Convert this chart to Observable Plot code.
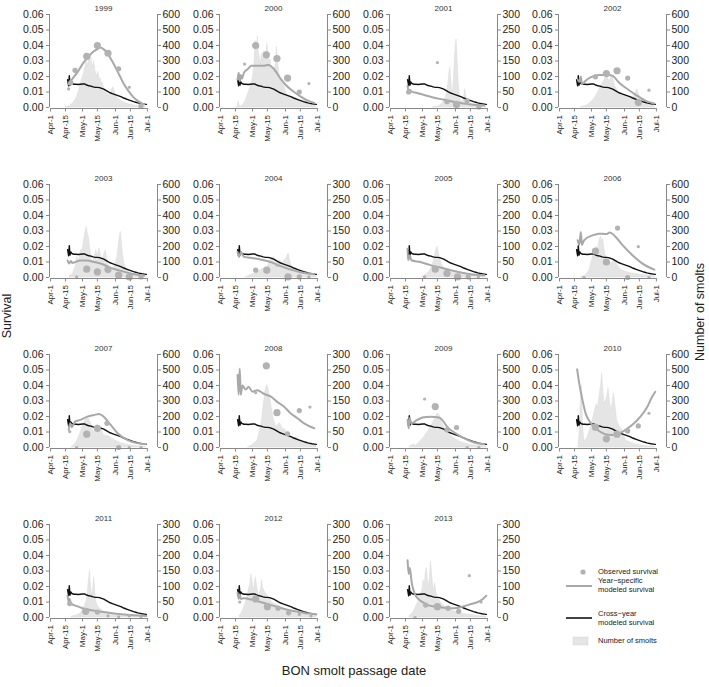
<!DOCTYPE html>
<html><head><meta charset="utf-8">
<script src="https://cdn.jsdelivr.net/npm/d3@7"></script>
<script src="https://cdn.jsdelivr.net/npm/@observablehq/plot@0.6"></script>
<style>
body{margin:0;background:#fff;}
#root{position:relative;width:709px;height:687px;background:#fff;overflow:hidden;font-family:"Liberation Sans",Arial,sans-serif;color:#222}
.panel{position:absolute}
.panel svg{overflow:visible}
.panel g[aria-label$="tick label"]{stroke:none;fill:#222}
#overlay{position:absolute;left:0;top:0}
</style></head><body><div id="root"></div>
<script>
// ---------- data ----------
const years = [1999,2000,2001,2002,2003,2004,2005,2006,2007,2008,2009,2010,2011,2012,2013];
const rightMax = [600,600,300,600,600,300,300,600,600,300,600,600,300,300,300];
const dateTickDays = [0,14,30,44,61,75,91];          // days after Apr-1
const dateTickLabels = ["Apr-1","Apr-15","May-1","May-15","Jun-1","Jun-15","Jul-1"];
const survivalTicks = [0,0.01,0.02,0.03,0.04,0.05,0.06];

// cross-year modeled survival [day, survival]
const crossYear = [[16,0.018],[17,0.014],[17.6,0.0205],[18.3,0.0145],[19,0.0165],[20,0.0155],[22,0.015],[24,0.015],[26,0.0148],[28,0.015],[30,0.0152],[32,0.0152],[34,0.0145],[36,0.014],[38,0.0138],[40,0.0133],[42,0.013],[44,0.013],[46,0.0128],[48,0.0123],[50,0.0118],[52,0.011],[54,0.0102],[56,0.0095],[58,0.009],[60,0.0085],[62,0.008],[64,0.0075],[66,0.007],[68,0.0063],[70,0.0058],[72,0.0053],[74,0.0048],[76,0.0043],[78,0.0038],[80,0.0034],[82,0.003],[84,0.0027],[86,0.0024],[88,0.0022],[90,0.002]];

// number of smolts [day, count]
const counts1999 = [[14,2],[16,5],[18,10],[20,20],[22,35],[24,55],[25,70],[26,90],[27,110],[28,140],[29,170],[30,190],[31,210],[32,240],[33,270],[34,300],[35,260],[36,310],[37,330],[38,345],[39,290],[40,260],[41,300],[42,240],[43,220],[44,200],[45,230],[46,180],[47,190],[48,150],[49,160],[50,130],[51,110],[52,90],[53,95],[54,80],[55,85],[56,70],[57,100],[58,120],[59,130],[60,110],[61,90],[62,70],[63,60],[64,55],[65,50],[66,45],[67,40],[68,35],[70,30],[72,25],[74,20],[76,20],[78,15],[80,12],[82,10],[84,8],[86,6],[88,4],[90,3]];
const counts2000 = [[16,0],[17,40],[18,5],[20,10],[22,25],[24,50],[26,90],[28,130],[29,160],[30,180],[31,220],[32,300],[33,430],[34,380],[35,460],[36,350],[37,320],[38,280],[39,350],[40,300],[41,365],[42,330],[43,350],[44,410],[45,330],[46,290],[47,310],[48,260],[49,240],[50,260],[51,230],[52,280],[53,390],[54,300],[55,230],[56,195],[57,180],[58,160],[59,150],[60,140],[61,110],[62,90],[63,75],[65,70],[67,68],[69,65],[71,55],[73,48],[75,43],[77,35],[79,30],[81,25],[84,20],[87,12],[90,5]];
const counts2001 = [[40,1],[44,2],[46,5],[48,10],[50,20],[52,35],[53,45],[54,70],[55,100],[56,129],[57,90],[58,50],[59,60],[60,120],[61,190],[62,220],[63,150],[64,80],[65,40],[66,25],[67,20],[68,20],[69,30],[70,59],[71,40],[72,20],[74,15],[76,12],[80,8],[85,5],[90,3]];
const counts2002 = [[20,2],[22,5],[24,10],[26,15],[28,25],[30,35],[31,43],[32,50],[34,70],[36,95],[37,108],[38,130],[40,150],[42,172],[43,190],[44,200],[45,226],[46,190],[47,160],[48,180],[49,210],[50,194],[51,170],[52,140],[53,130],[54,115],[55,100],[56,95],[58,90],[59,86],[60,80],[62,75],[64,70],[66,68],[68,65],[70,75],[72,100],[73,118],[74,100],[75,80],[76,65],[78,45],[80,35],[82,28],[84,20],[86,15],[88,10],[90,5]];
const counts2003 = [[18,5],[19,20],[20,10],[22,40],[24,80],[25,133],[26,110],[27,120],[28,150],[29,180],[30,170],[31,220],[32,260],[33,300],[34,326],[35,280],[36,260],[37,200],[38,150],[39,110],[40,100],[41,120],[42,150],[43,176],[44,140],[45,160],[46,186],[47,150],[48,100],[49,120],[50,140],[51,160],[52,176],[53,130],[54,90],[55,70],[56,55],[57,45],[58,40],[59,50],[60,70],[61,90],[62,111],[63,140],[64,200],[65,260],[66,294],[67,230],[68,150],[69,100],[70,80],[71,60],[72,45],[74,35],[76,28],[78,22],[80,18],[82,14],[85,10],[88,6],[90,4]];
const counts2004 = [[24,2],[26,4],[28,7],[30,10],[32,13],[34,16],[36,20],[38,24],[40,28],[42,30],[44,34],[45,40],[46,48],[47,56],[48,60],[49,62],[50,66],[51,55],[52,50],[53,45],[54,48],[55,52],[56,56],[57,50],[58,45],[59,48],[60,55],[61,58],[62,61],[63,70],[64,77],[65,60],[66,45],[67,35],[68,28],[69,24],[71,22],[73,20],[75,18],[78,14],[81,11],[84,8],[87,6],[90,4]];
const counts2005 = [[30,2],[32,5],[34,10],[36,18],[38,28],[39,34],[40,45],[41,60],[42,75],[43,90],[44,99],[45,85],[46,70],[47,56],[48,45],[49,38],[50,32],[52,26],[54,22],[56,18],[58,15],[60,14],[63,13],[66,11],[69,10],[72,8],[76,6],[80,5],[85,4],[90,3]];
const counts2006 = [[20,3],[22,6],[24,12],[26,25],[28,47],[29,70],[30,100],[31,120],[32,154],[33,140],[34,170],[35,197],[36,180],[37,220],[38,250],[39,265],[40,230],[41,250],[42,190],[43,150],[44,133],[45,120],[46,111],[47,100],[48,95],[49,90],[50,100],[51,105],[52,111],[53,110],[54,90],[55,75],[56,65],[57,55],[58,50],[59,47],[61,40],[63,35],[65,30],[68,26],[72,22],[76,18],[80,15],[84,12],[88,8],[90,6]];
const counts2007 = [[20,5],[22,15],[24,30],[26,55],[28,92],[29,110],[30,130],[31,150],[32,165],[33,178],[34,190],[35,199],[36,185],[37,170],[38,156],[39,130],[40,110],[41,92],[42,110],[43,130],[44,146],[45,140],[46,138],[47,135],[48,120],[49,100],[50,81],[51,78],[52,76],[53,74],[55,71],[57,60],[59,52],[61,45],[63,38],[66,28],[69,22],[72,18],[75,14],[78,11],[82,8],[86,6],[90,4]];
const counts2008 = [[26,2],[28,4],[30,8],[32,14],[34,20],[35,25],[36,40],[37,55],[38,70],[39,89],[40,120],[41,150],[42,180],[43,195],[44,201],[45,190],[46,170],[47,153],[48,130],[49,110],[50,89],[51,80],[52,72],[53,68],[54,72],[55,76],[56,78],[57,70],[58,64],[59,60],[60,58],[61,57],[62,50],[63,45],[64,40],[66,35],[68,33],[70,32],[72,30],[74,26],[76,22],[78,20],[81,17],[84,14],[87,10],[90,6]];
const counts2009 = [[18,5],[20,15],[22,18],[24,12],[26,25],[28,39],[30,55],[32,70],[34,92],[36,110],[38,135],[40,160],[42,189],[43,200],[44,221],[45,215],[46,210],[47,190],[48,170],[49,150],[50,135],[52,115],[54,100],[56,81],[58,70],[60,60],[62,50],[64,42],[66,35],[69,28],[72,22],[75,18],[78,15],[82,11],[86,8],[90,5]];
const counts2010 = [[18,20],[19,120],[20,300],[21,400],[22,150],[23,60],[24,40],[26,60],[28,100],[30,150],[31,178],[32,200],[33,230],[34,260],[35,280],[36,250],[37,306],[38,350],[39,400],[40,478],[41,380],[42,300],[43,285],[44,310],[45,340],[46,381],[47,320],[48,270],[49,242],[50,290],[51,349],[52,300],[53,240],[54,178],[55,160],[56,140],[57,130],[58,120],[59,114],[60,90],[61,70],[62,49],[64,40],[66,34],[68,28],[72,20],[76,14],[78,11],[82,8],[86,6],[90,4]];
const counts2011 = [[20,3],[24,6],[28,12],[30,20],[32,35],[34,55],[35,80],[36,120],[37,150],[38,100],[39,70],[40,90],[41,130],[42,80],[43,50],[44,40],[46,30],[48,24],[50,18],[53,14],[56,11],[60,8],[65,6],[70,5],[80,3],[90,2]];
const counts2012 = [[18,5],[20,15],[22,30],[24,50],[26,80],[28,110],[29,140],[30,120],[31,90],[32,100],[33,130],[34,110],[35,85],[36,70],[38,90],[39,120],[40,95],[42,80],[44,70],[46,60],[48,50],[50,45],[53,40],[56,35],[60,28],[64,22],[68,18],[72,14],[76,11],[80,8],[85,6],[90,4]];
const counts2013 = [[18,5],[20,10],[22,20],[24,35],[26,50],[28,70],[30,90],[31,120],[32,100],[33,140],[34,160],[35,120],[36,100],[37,130],[38,180],[39,140],[40,100],[41,90],[42,110],[43,80],[44,70],[46,55],[48,45],[50,38],[53,30],[56,25],[60,20],[64,16],[68,12],[72,10],[76,8],[80,6],[85,4],[90,3]];

// observed survival [day, survival, relative sample size 1-3]
const obs1999 = [[17,0.012,1],[19,0.016,2],[23,0.024,2],[34,0.033,3],[44,0.040,3],[54,0.035,3],[64,0.025,2],[74,0.013,1],[85,0.001,2]];
const obs2000 = [[22.6,0.028,1],[33,0.040,3],[43,0.034,3],[53,0.0316,3],[63,0.019,3],[74,0.010,2],[83,0.0155,1]];
const obs2001 = [[17,0.010,2],[44,0.029,1],[53,0.0037,2],[62,0.002,3],[72,0.0043,2],[83,0.0004,2]];
const obs2002 = [[33.7,0.0198,2],[44,0.0219,3],[54,0.0237,3],[64,0.019,2],[74,0.0032,3],[84,0.0112,1]];
const obs2003 = [[24.5,0.0004,1],[34,0.0054,3],[44,0.0036,3],[54,0.0051,3],[64,0.0015,3],[74,0.0004,3],[85,0.0004,2]];
const obs2004 = [[33,0.0047,2],[43.4,0.0047,3],[53,0.008,1],[63.4,0.0004,3],[74,0.0004,2],[83,0.0004,1]];
const obs2005 = [[32,0.0004,1],[42,0.0054,3],[53,0.0026,3],[63,0.0004,3],[73,0.0004,2],[82.5,0.0004,1]];
const obs2006 = [[23,0.0,1],[33.7,0.0171,3],[44,0.010,3],[54.5,0.0319,2],[64,0.0,2],[74,0.0199,1],[84,0.0,1]];
const obs2007 = [[18,0.0103,1],[24.5,0.0,1],[34,0.0086,3],[44,0.0124,3],[53,0.0156,2],[64,0.0,2],[74,0.0,1],[85,0.0,1]];
const obs2008 = [[33,0.0354,1],[43,0.0527,3],[53,0.0225,3],[63,0.0088,2],[74,0.0238,2],[84,0.0261,1]];
const obs2009 = [[32,0.0313,1],[42,0.0264,3],[53,0.0114,2],[62,0.0129,2],[72,0.0,1],[83,0.0,1]];
const obs2010 = [[33.7,0.0131,3],[44,0.0056,3],[54,0.0086,3],[64,0.0107,2],[74,0.0139,2],[84,0.0221,1]];
const obs2011 = [[18,0.009,2],[33,0.004,3],[44,0.0035,2],[54,0.001,1],[64,0.0005,1],[74,0.001,1],[85,0.0005,1]];
const obs2012 = [[18,0.010,1],[33,0.012,3],[44,0.007,3],[54,0.006,2],[64,0.003,2],[74,0.002,1],[85,0.001,1]];
const obs2013 = [[23,0.0,1],[33,0.008,2],[44,0.007,3],[54,0.006,2],[64,0.004,2],[74,0.027,1],[85,0.010,1]];

// year-specific modeled survival [day, survival]
const fit1999 = [[17,0.015],[20,0.018],[25,0.0225],[30,0.028],[34.5,0.032],[40,0.036],[44,0.0376],[47,0.0387],[50,0.0375],[53,0.0355],[57,0.031],[61,0.026],[65,0.0205],[69,0.015],[74,0.010],[78,0.0065],[83,0.0038],[88,0.002]];
const fit2000 = [[16,0.018],[17,0.0225],[18,0.017],[19,0.021],[20,0.0185],[22,0.0225],[26,0.025],[29,0.027],[35,0.027],[41,0.027],[45,0.0275],[50,0.025],[56,0.019],[62,0.014],[72,0.0086],[81,0.0047],[88,0.003]];
const fit2001 = [[16,0.014],[17,0.0103],[18,0.0115],[19.5,0.0103],[25,0.0094],[31,0.0082],[40,0.0065],[50,0.005],[59,0.0037],[69,0.0026],[78,0.0017],[88,0.0013]];
const fit2002 = [[17,0.018],[18.5,0.0165],[20,0.020],[21,0.015],[24,0.017],[29,0.0194],[37,0.021],[46,0.021],[50,0.0204],[56,0.016],[64,0.0118],[72,0.008],[81,0.0043],[89,0.0026]];
const fit2003 = [[16,0.011],[17.5,0.009],[19,0.0107],[20.5,0.0094],[28,0.011],[34,0.011],[41,0.010],[47,0.009],[56,0.0064],[66,0.0043],[75,0.0026],[88,0.0013]];
const fit2004 = [[16,0.0165],[17.5,0.0133],[19,0.0165],[22,0.0133],[28,0.0128],[37.5,0.0116],[47,0.010],[56.5,0.0073],[66,0.0051],[75,0.0034],[88,0.0021]];
const fit2005 = [[16,0.0186],[16.5,0.0111],[18,0.0143],[19.5,0.0111],[28,0.010],[37.5,0.008],[47,0.0064],[56.5,0.0047],[66,0.0032],[75,0.0021],[88,0.0015]];
const fit2006 = [[17,0.024],[18.5,0.021],[20,0.0294],[21,0.021],[23,0.024],[31,0.0272],[37,0.0283],[44,0.028],[47,0.029],[53,0.026],[59,0.021],[68.5,0.0144],[78,0.009],[89,0.0051]];
const fit2007 = [[17,0.0114],[18.5,0.0156],[20,0.013],[23,0.0167],[28,0.0178],[34.5,0.0199],[41,0.021],[45.5,0.0216],[50,0.0199],[56.5,0.0146],[63,0.0092],[72,0.0049],[85,0.0024],[89.5,0.0022]];
const fit2008 = [[16,0.0467],[17,0.034],[18,0.051],[19,0.034],[20.5,0.040],[23.5,0.0375],[26.5,0.039],[30,0.036],[34.5,0.037],[41,0.0345],[47,0.033],[53,0.0296],[59.5,0.0264],[66,0.022],[72,0.019],[78.5,0.0156],[88,0.0124]];
const fit2009 = [[16,0.0178],[17,0.0124],[18, 0.019],[19.5,0.0156],[25,0.0178],[31,0.0195],[37.5,0.0199],[45.5,0.0193],[48.5,0.0178],[53,0.0135],[61,0.0092],[69,0.006],[78.5,0.0032],[88,0.0021]];
const fit2010 = [[16.5,0.0504],[18.5,0.0414],[21.5,0.0306],[24.5,0.022],[29.5,0.0156],[35.5,0.0114],[42,0.0088],[48,0.0081],[54.5,0.0086],[62,0.0114],[70,0.0156],[76,0.0199],[82.5,0.0263],[87,0.0328],[90,0.036]];
const fit2011 = [[16,0.014],[17,0.010],[18,0.012],[19,0.009],[22,0.008],[26,0.007],[30,0.006],[35,0.0052],[40,0.0045],[45,0.004],[50,0.0035],[55,0.003],[60,0.0026],[65,0.0022],[70,0.0019],[75,0.0016],[80,0.0014],[85,0.0012],[90,0.001]];
const fit2012 = [[16,0.016],[17,0.012],[18,0.015],[19,0.012],[22,0.0125],[26,0.012],[30,0.0115],[35,0.0105],[40,0.0095],[45,0.0085],[50,0.0075],[55,0.0065],[60,0.0055],[65,0.0047],[70,0.004],[75,0.0034],[80,0.0028],[85,0.0024],[90,0.002]];
const fit2013 = [[16,0.037],[17,0.028],[18,0.032],[20,0.022],[23,0.015],[26,0.012],[30,0.010],[35,0.008],[40,0.0072],[45,0.0068],[50,0.0063],[55,0.006],[60,0.006],[65,0.0065],[70,0.0075],[75,0.0085],[80,0.0095],[85,0.011],[90,0.014]];

const countsByYear = [counts1999,counts2000,counts2001,counts2002,counts2003,counts2004,counts2005,counts2006,counts2007,counts2008,counts2009,counts2010,counts2011,counts2012,counts2013];
const obsByYear = [obs1999,obs2000,obs2001,obs2002,obs2003,obs2004,obs2005,obs2006,obs2007,obs2008,obs2009,obs2010,obs2011,obs2012,obs2013];
const fitByYear = [fit1999,fit2000,fit2001,fit2002,fit2003,fit2004,fit2005,fit2006,fit2007,fit2008,fit2009,fit2010,fit2011,fit2012,fit2013];

// ---------- layout ----------
const colX = [0,170,340,509];
const rowY = [0,170,340,510];
const xDomain = [-1,100.5];
const yDomain = [0,0.06];
const root = document.getElementById("root");
const fmt2 = d3.format(".2f");

years.forEach((year, i) => {
  const max = rightMax[i];
  const k = 0.06 / max;
  const counts = countsByYear[i].map(([day, n]) => ({day, s: n * k}));
  const obs = obsByYear[i].map(([day, s, w]) => ({day, s, w}));
  const fit = fitByYear[i].map(([day, s]) => ({day, s}));
  const cross = crossYear.map(([day, s]) => ({day, s}));
  const chart = Plot.plot({
    width: 170, height: 170,
    marginLeft: 49, marginRight: 13, marginTop: 14, marginBottom: 63,
    style: "background:transparent;overflow:visible;font-family:'Liberation Sans',Arial,sans-serif;color:#222;",
    x: {domain: xDomain, axis: null},
    y: {domain: yDomain, axis: null},
    r: {type: "linear", domain: [1, 3], range: [1.6, 3.6]},
    marks: [
      Plot.areaY(counts, {x: "day", y: "s", fill: "#e5e5e5", stroke: "#dadada", strokeWidth: 0.5}),
      Plot.line(cross, {x: "day", y: "s", stroke: "#111", strokeWidth: 1.4}),
      Plot.line(fit, {x: "day", y: "s", stroke: "#a8a8a8", strokeWidth: 2, curve: "monotone-x"}),
      Plot.dot(obs, {x: "day", y: "s", r: "w", fill: "#b2b2b2", stroke: "none"}),
      Plot.ruleX([xDomain[0]], {y1: yDomain[0], y2: yDomain[1], stroke: "#888"}),
      Plot.ruleX([xDomain[1]], {y1: yDomain[0], y2: yDomain[1], stroke: "#888"}),
      Plot.ruleY([yDomain[0]], {x1: dateTickDays[0], x2: dateTickDays[dateTickDays.length-1], stroke: "#888", dy: 1}),
      Plot.axisY(survivalTicks, {anchor: "left", tickSize: 3, tickPadding: 3, tickFormat: fmt2, fontSize: 10.5, stroke: "#888", label: null}),
      Plot.axisY(survivalTicks, {anchor: "right", tickSize: 3, tickPadding: 2, tickFormat: d => String(Math.round(d / k)), fontSize: 10.5, stroke: "#888", label: null}),
      Plot.axisX(dateTickDays, {anchor: "bottom", tickSize: 3.5, tickPadding: 3, tickRotate: -90, fontSize: 8, stroke: "#888", dy: 1,
        tickFormat: d => dateTickLabels[dateTickDays.indexOf(d)], label: null}),
      Plot.text([String(year)], {frameAnchor: "top", dy: -9, fontSize: 8, fill: "#333"})
    ]
  });
  const div = document.createElement("div");
  div.className = "panel";
  div.style.left = colX[i % 4] + "px";
  div.style.top = rowY[Math.floor(i / 4)] + "px";
  div.appendChild(chart);
  root.appendChild(div);
});

// ---------- outer labels and legend ----------
const ns = "http://www.w3.org/2000/svg";
const ov = document.createElementNS(ns, "svg");
ov.setAttribute("id", "overlay");
ov.setAttribute("width", 709); ov.setAttribute("height", 687);
ov.innerHTML = `
<g font-family="Liberation Sans, Arial, sans-serif" fill="#222">
  <text x="354" y="672" font-size="13" text-anchor="middle" dominant-baseline="middle">BON smolt passage date</text>
  <text transform="translate(8,316) rotate(-90)" font-size="12.5" text-anchor="middle" dominant-baseline="middle">Survival</text>
  <text transform="translate(701,312) rotate(-90)" font-size="12.5" text-anchor="middle" dominant-baseline="middle">Number of smolts</text>
  <circle cx="583" cy="572" r="2.6" fill="#b2b2b2"/>
  <text x="598" y="572" font-size="7.5" dominant-baseline="middle">Observed survival</text>
  <line x1="566" x2="592" y1="586" y2="586" stroke="#a8a8a8" stroke-width="2"/>
  <text x="598" y="581" font-size="7.5" dominant-baseline="middle">Year−specific</text>
  <text x="598" y="590" font-size="7.5" dominant-baseline="middle">modeled survival</text>
  <line x1="566" x2="592" y1="618" y2="618" stroke="#111" stroke-width="1.6"/>
  <text x="598" y="614" font-size="7.5" dominant-baseline="middle">Cross−year</text>
  <text x="598" y="623" font-size="7.5" dominant-baseline="middle">modeled survival</text>
  <rect x="573" y="637" width="15" height="8" fill="#e5e5e5" stroke="#d5d5d5" stroke-width="0.5"/>
  <text x="598" y="641" font-size="7.5" dominant-baseline="middle">Number of smolts</text>
</g>`;
root.appendChild(ov);
</script>
</body></html>
